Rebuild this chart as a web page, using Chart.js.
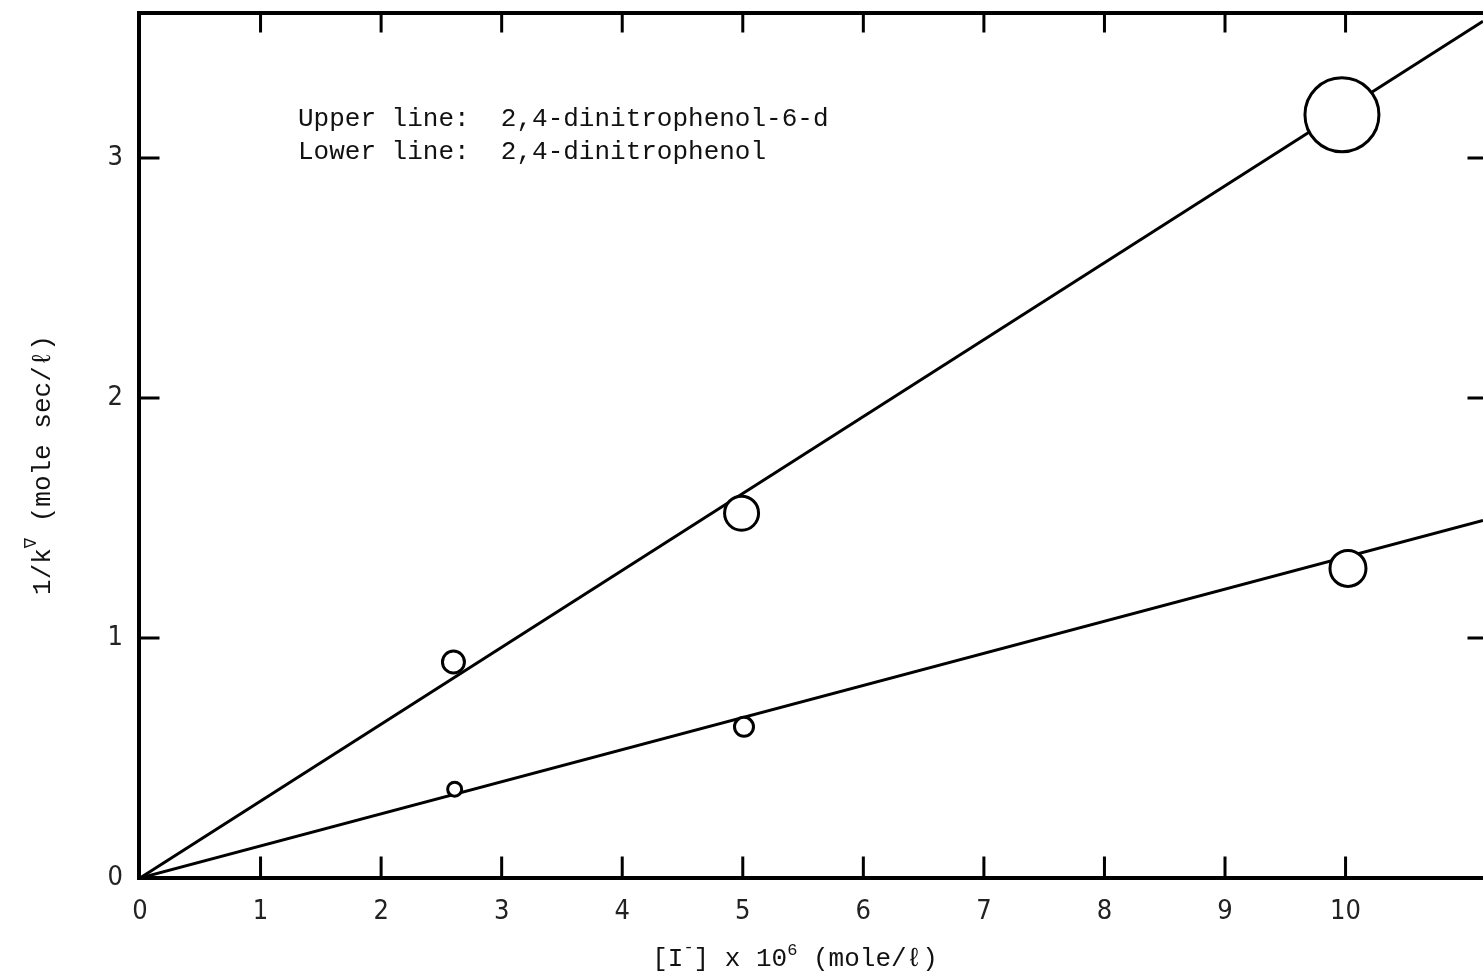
<!DOCTYPE html>
<html>
<head>
<meta charset="utf-8">
<script src="https://cdn.jsdelivr.net/npm/chart.js@4/dist/chart.umd.min.js"></script>
<style>
  html, body { margin: 0; padding: 0; background: #fff; }
  #wrap { width: 1483px; height: 978px; }
</style>
</head>
<body>
<div id="wrap"><canvas id="plot"></canvas></div>
<script>
// values
const upperX = [2.6, 4.99, 9.97];
const upperY = [0.90, 1.52, 3.18];
const upperSize = [11, 17, 37];
const lowerX = [2.61, 5.01, 10.02];
const lowerY = [0.37, 0.63, 1.29];
const lowerSize = [7, 9.5, 18];
// fitted straight lines (ends read at the origin and at the right edge)
const upperLineX = [0, 11.14];
const upperLineY = [0, 3.57];
const lowerLineX = [0, 11.14];
const lowerLineY = [0, 1.49];
const xTicks = [0, 1, 2, 3, 4, 5, 6, 7, 8, 9, 10];
const yTicks = [0, 1, 2, 3];
const noteLines = ['Upper line:  2,4-dinitrophenol-6-d', 'Lower line:  2,4-dinitrophenol'];

const toPts = (xs, ys) => xs.map((x, i) => ({ x: x, y: ys[i] }));
const mono = '"Liberation Mono", "DejaVu Sans Mono", monospace';
const tickFont = { family: '"Liberation Sans Narrow", "DejaVu Sans Condensed", "Liberation Sans", sans-serif', size: 27 };

// frame, inward ticks, note and axis titles
const framePlugin = {
    id: 'frame',
    afterDraw(chart) {
        const ctx = chart.ctx;
        const a = chart.chartArea;
        const xs = chart.scales.x;
        const ys = chart.scales.y;
        ctx.save();
        ctx.strokeStyle = '#000';
        ctx.lineCap = 'square';

        ctx.lineWidth = 4;
        ctx.beginPath();
        ctx.moveTo(a.left - 1, a.top);
        ctx.lineTo(a.right, a.top);
        ctx.moveTo(a.left - 1, a.top);
        ctx.lineTo(a.left - 1, a.bottom);
        ctx.lineTo(a.right, a.bottom);
        ctx.stroke();

        ctx.lineWidth = 3;
        ctx.beginPath();
        xTicks.forEach(v => {
            if (v === 0) return;
            const px = xs.getPixelForValue(v);
            ctx.moveTo(px, a.bottom);
            ctx.lineTo(px, a.bottom - 20);
            ctx.moveTo(px, a.top);
            ctx.lineTo(px, a.top + 18);
        });
        yTicks.forEach(v => {
            if (v === 0) return;
            const py = ys.getPixelForValue(v);
            ctx.moveTo(a.left, py);
            ctx.lineTo(a.left + 18, py);
            ctx.moveTo(a.right, py);
            ctx.lineTo(a.right - 14, py);
        });
        ctx.stroke();

        ctx.fillStyle = '#111';
        ctx.font = '26px ' + mono;
        ctx.textBaseline = 'middle';
        ctx.textAlign = 'left';
        ctx.fillText(noteLines[0], 298, 119);
        ctx.fillText(noteLines[1], 298, 152);

        // x title: [I-] x 10^6 (mole/l)
        const big = '26px ' + mono;
        const small = '17px ' + mono;
        const parts = [['[I', big, 0], ['-', small, -14], ['] x 10', big, 0], ['6', small, -11], [' (mole/ℓ)', big, 0]];
        let total = 0;
        parts.forEach(p => { ctx.font = p[1]; total += ctx.measureText(p[0]).width; });
        let cx = 795 - total / 2;
        ctx.textBaseline = 'alphabetic';
        parts.forEach(p => {
            ctx.font = p[1];
            ctx.fillText(p[0], cx, 966 + p[2]);
            cx += ctx.measureText(p[0]).width;
        });

        // y title: 1/k^∇ (mole sec/l)
        ctx.translate(50, 465);
        ctx.rotate(-Math.PI / 2);
        const yparts = [['1/k', big, 0], ['∇', small, -14], [' (mole sec/ℓ)', big, 0]];
        total = 0;
        yparts.forEach(p => { ctx.font = p[1]; total += ctx.measureText(p[0]).width; });
        cx = -total / 2;
        yparts.forEach(p => {
            ctx.font = p[1];
            ctx.fillText(p[0], cx, p[2]);
            cx += ctx.measureText(p[0]).width;
        });
        ctx.restore();
    }
};

const ctx = document.getElementById('plot').getContext('2d');
new Chart(ctx, {
    type: 'scatter',
    data: {
        datasets: [
            {
                data: toPts(upperX, upperY),
                pointRadius: upperSize,
                pointBackgroundColor: '#fff',
                pointBorderColor: '#000',
                pointBorderWidth: 3,
                order: 0
            },
            {
                data: toPts(lowerX, lowerY),
                pointRadius: lowerSize,
                pointBackgroundColor: '#fff',
                pointBorderColor: '#000',
                pointBorderWidth: 3,
                order: 0
            },
            {
                data: toPts(upperLineX, upperLineY),
                showLine: true,
                borderColor: '#000',
                borderWidth: 3,
                pointRadius: 0,
                order: 1
            },
            {
                data: toPts(lowerLineX, lowerLineY),
                showLine: true,
                borderColor: '#000',
                borderWidth: 3,
                pointRadius: 0,
                order: 1
            }
        ]
    },
    options: {
        responsive: true,
        maintainAspectRatio: false,
        animation: false,
        layout: { autoPadding: false, padding: { top: 13, right: 0, left: 0, bottom: 0 } },
        plugins: { legend: { display: false }, tooltip: { enabled: false } },
        scales: {
            x: {
                type: 'linear',
                min: 0,
                max: 11.14,
                afterBuildTicks: s => { s.ticks = xTicks.map(v => ({ value: v })); },
                afterFit: s => {
                    s.height = 100;
                    s.paddingLeft = 0;
                    s.paddingRight = 0;
                },
                grid: { display: false, drawTicks: false },
                border: { display: false },
                ticks: { padding: 18, color: '#222', font: tickFont }
            },
            y: {
                type: 'linear',
                min: 0,
                max: 3.604,
                afterBuildTicks: s => { s.ticks = yTicks.map(v => ({ value: v })); },
                afterFit: s => {
                    s.width = 140;
                    s.paddingTop = 0;
                    s.paddingBottom = 0;
                },
                grid: { display: false, drawTicks: false },
                border: { display: false },
                ticks: { padding: 17, color: '#222', font: tickFont }
            }
        }
    },
    plugins: [framePlugin]
});
</script>
</body>
</html>
